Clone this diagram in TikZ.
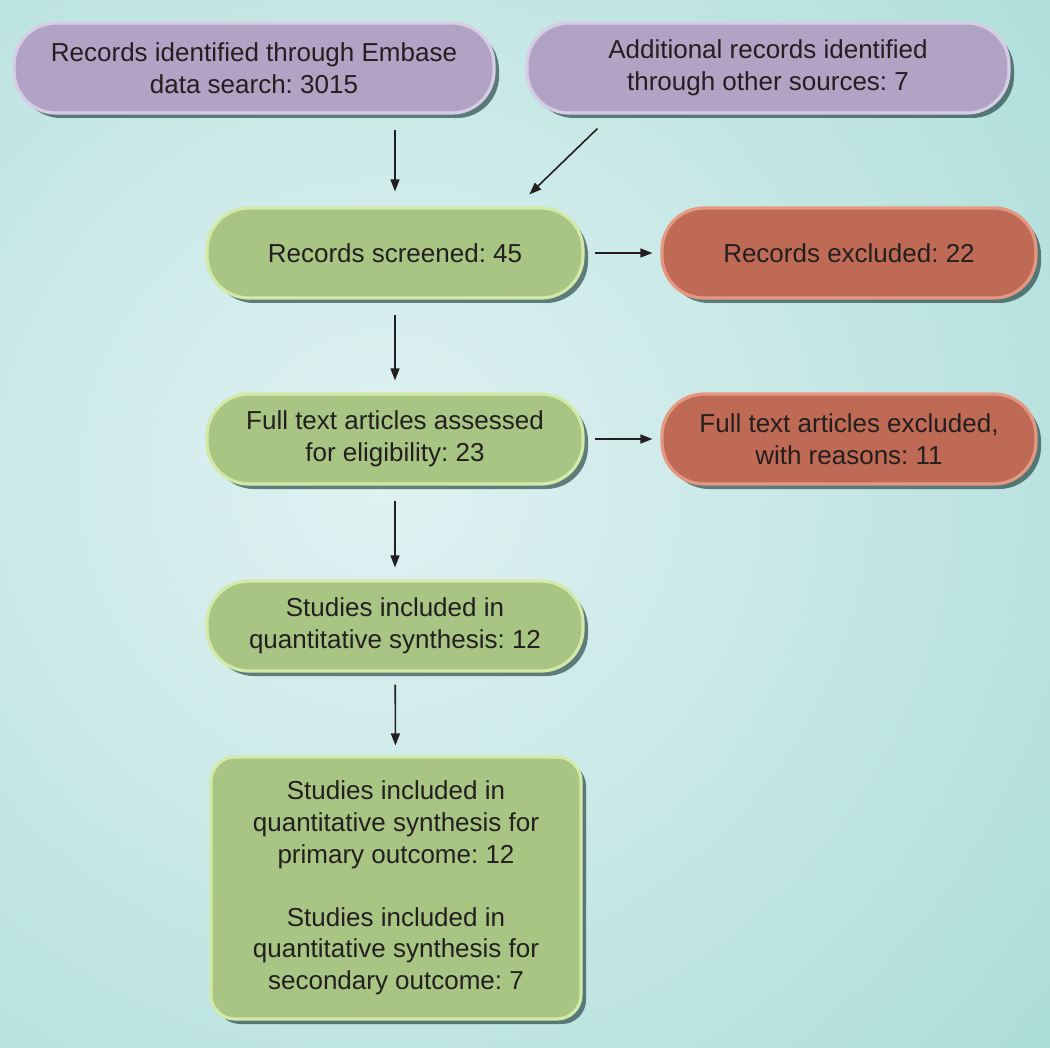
\documentclass[tikz,border=0pt]{standalone}
\usepackage{fontspec}
\setmainfont{Liberation Sans}
\usetikzlibrary{arrows.meta,shadows}

\definecolor{bglight}{HTML}{E0F2F2}
\definecolor{bgdark}{HTML}{A0D8D3}
\definecolor{violetfill}{HTML}{B0A3C4}
\definecolor{violetrim}{HTML}{D6CDE5}
\definecolor{greenfill}{HTML}{A8C584}
\definecolor{greenrim}{HTML}{D3E9A8}
\definecolor{redfill}{HTML}{BF6A55}
\definecolor{redrim}{HTML}{E49882}
\definecolor{inktext}{HTML}{231F20}

\frenchspacing
\begin{document}
\begin{tikzpicture}[x=0.5pt,y=-0.5pt]
    % background
    \begin{scope}
        \clip (0,0) rectangle (1050,1048);
        \shade[inner color=bglight,outer color=bgdark] (-720,-620) rectangle (1480,1580);
    \end{scope}
    \useasboundingbox (0,0) rectangle (1050,1048);

    \begin{scope}[every node/.style={rounded corners=21pt,minimum height=45pt,
            align=center,text=inktext,line width=1.6pt,
            font=\fontsize{13}{15.8}\selectfont,
            drop shadow={shadow xshift=2.5pt,shadow yshift=-2.5pt,opacity=.55,fill=black!75!teal}}]
        \node[fill=violetfill,draw=violetrim,minimum width=240pt] (1) at (254,68)
            {Records identified through Embase\\data search: 3015};
        \node[fill=violetfill,draw=violetrim,minimum width=241pt] (2) at (768,68)
            {Additional records identified\\through other sources: 7};
        \node[fill=greenfill,draw=greenrim,minimum width=188pt] (3) at (395,253)
            {Records screened: 45};
        \node[fill=redfill,draw=redrim,minimum width=187pt] (4) at (849,253)
            {Records excluded: 22};
        \node[fill=greenfill,draw=greenrim,minimum width=188pt] (5) at (395,439)
            {Full text articles assessed\\for eligibility: 23};
        \node[fill=redfill,draw=redrim,minimum width=187pt] (6) at (849,439)
            {Full text articles excluded,\\with reasons: 11};
        \node[fill=greenfill,draw=greenrim,minimum width=188pt] (7) at (395,626)
            {Studies included in\\quantitative synthesis: 12};
        \node[fill=greenfill,draw=greenrim,minimum width=185pt,minimum height=131pt,
            rounded corners=12pt] (8) at (396,888)
            {Studies included in\\quantitative synthesis for\\primary outcome: 12\\[15.8pt]
             Studies included in\\quantitative synthesis for\\secondary outcome: 7};
    \end{scope}

    \begin{scope}[>={Triangle[length=6pt,width=4.5pt]},
        every edge/.style={draw=inktext,line width=0.8pt}]
        \path [->,shorten <=7.5pt,shorten >=7.5pt] (1.south -| 3.north) edge (3.north);
        \path [->] ([shift={(72,14)}]2.south west) edge ([shift={(324,-12)}]3.north west);
        \path [->,shorten <=5pt,shorten >=4pt] (3) edge (4);
        \path [->,shorten <=7.5pt,shorten >=6pt] (3) edge (5);
        \path [->,shorten <=5pt,shorten >=4pt] (5) edge (6);
        \path [->,shorten <=7.5pt,shorten >=6pt] (5) edge (7);
        \path [->,shorten <=6pt,shorten >=5pt] (7) edge (8);
    \end{scope}
\end{tikzpicture}
\end{document}
